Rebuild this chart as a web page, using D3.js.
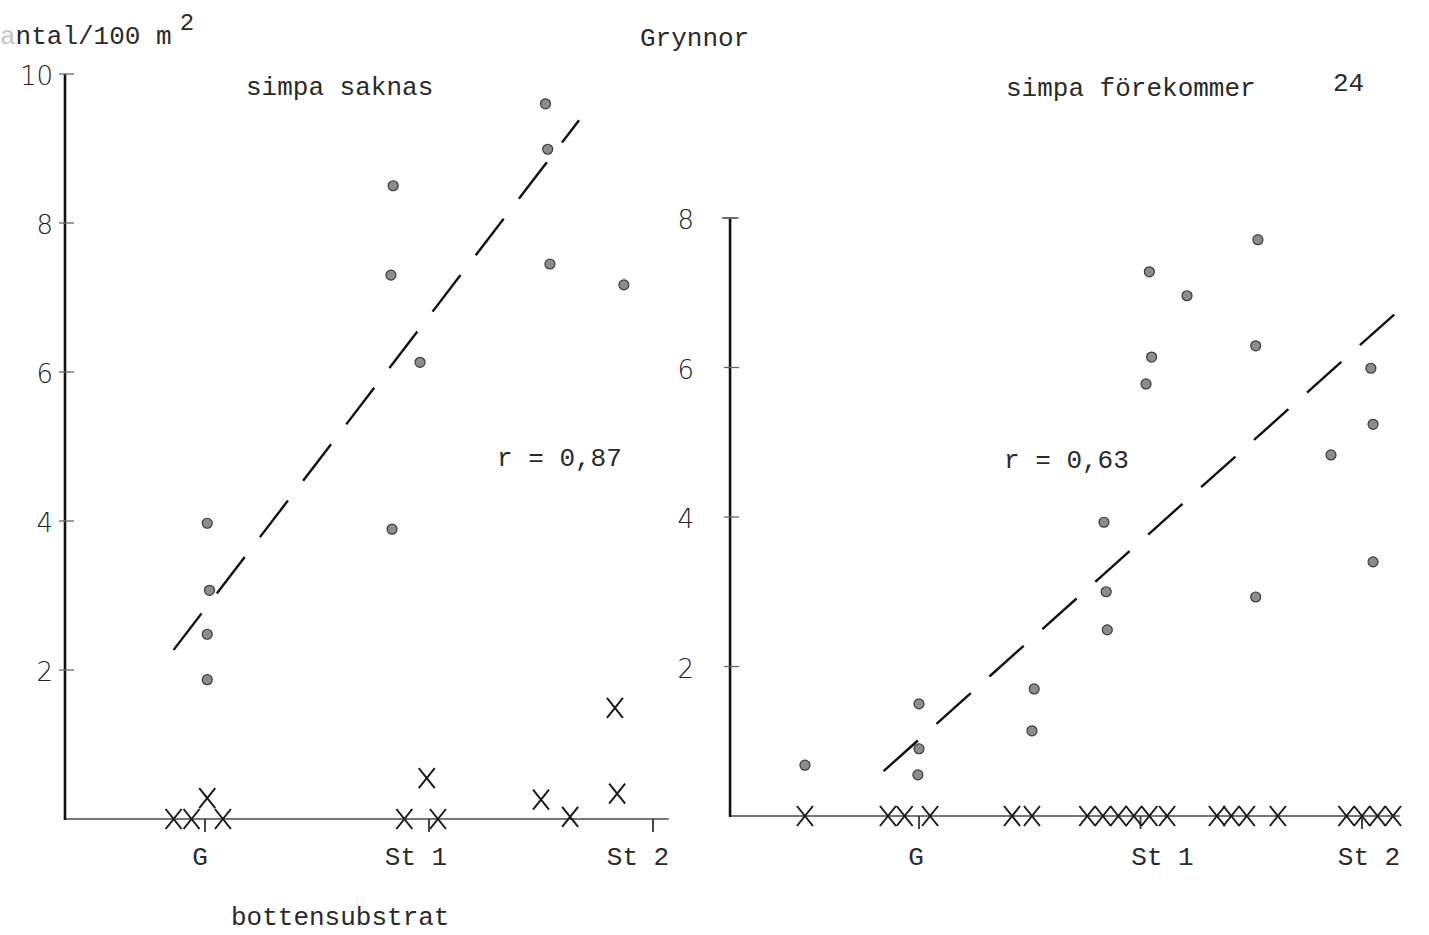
<!DOCTYPE html>
<html>
<head>
<meta charset="utf-8">
<script src="https://cdn.jsdelivr.net/npm/d3@7"></script>
<style>
  body { margin: 0; background: #fff; }
  svg { display: block; }
  .tw { font-family: "Liberation Mono", "DejaVu Sans Mono", monospace; font-size: 26px; fill: #2a2a2a; }
  .tick-label { font-family: "DejaVu Sans", sans-serif; font-weight: 200; font-size: 26px; fill: #222; }
</style>
</head>
<body>
<div id="chart"></div>
<script>
// categories along the bottom (bottensubstrat)
const categories = ["G", "St 1", "St 2"];
const leftTicks = [2, 4, 6, 8, 10];
const rightTicks = [2, 4, 6, 8];

// simpa saknas: dots (x in category units, y = antal/100 m2)
const leftDotPos = [0.01, 0.02, 0.01, 0.01, 0.84, 0.83, 0.96, 0.835, 1.52, 1.53, 1.54, 1.87];
const leftDotVal = [3.97, 3.07, 2.48, 1.87, 8.50, 7.30, 6.13, 3.89, 9.60, 8.99, 7.45, 7.17];
// crosses
const leftCrossPos = [-0.14, -0.06, 0.08, 0.01, 0.89, 1.04, 0.99, 1.50, 1.63, 1.84, 1.83];
const leftCrossVal = [0, 0, 0, 0.28, 0, 0, 0.55, 0.26, 0.03, 0.34, 1.49];
const leftFit = [[-0.14, 2.27], [1.67, 9.38]];
const leftR = "r = 0,87";

// simpa förekommer
const rightDotPos = [-0.515, 0.0, 0.0, -0.005, 0.52, 0.51, 0.835, 0.845, 0.85, 1.04, 1.05, 1.025,
                     1.21, 1.53, 1.52, 1.52, 1.86, 2.04, 2.05, 2.05];
const rightDotVal = [0.68, 1.50, 0.90, 0.55, 1.70, 1.14, 3.93, 3.00, 2.49, 7.28, 6.14, 5.78,
                     6.96, 7.71, 6.29, 2.93, 4.83, 5.99, 5.24, 3.40];
const rightCrossPos = [-0.515, -0.14, -0.065, 0.05, 0.42, 0.51, 0.76, 0.83, 0.90, 0.97, 1.04, 1.12,
                       1.345, 1.41, 1.48, 1.62, 1.93, 2.0, 2.07, 2.14];
const rightCrossVal = rightCrossPos.map(() => 0);
const rightFit = [[-0.16, 0.60], [2.18, 6.80]];
const rightR = "r = 0,63";

const width = 1429, height = 935;

const svg = d3.select("#chart")
  .append("svg")
  .attr("width", width)
  .attr("height", height);

const panels = [
  {
    x: d3.scaleLinear().domain([0, 2]).range([205, 653]),
    y: d3.scaleLinear().domain([0, 10]).range([819, 74]),
    xMin: -0.625, xMax: 2.07, yMax: 10,
    ticks: leftTicks, labelGap: 12, catShift: [-5, -13, -15],
    dotPos: leftDotPos, dotVal: leftDotVal,
    crossPos: leftCrossPos, crossVal: leftCrossVal,
    fit: leftFit, r: leftR, rAt: [497, 466]
  },
  {
    x: d3.scaleLinear().domain([0, 2]).range([919, 1362]),
    y: d3.scaleLinear().domain([0, 8]).range([816, 218]),
    xMin: -0.853, xMax: 2.17, yMax: 8, cap: true,
    ticks: rightTicks, labelGap: 36, catShift: [-3, 22, 7],
    dotPos: rightDotPos, dotVal: rightDotVal,
    crossPos: rightCrossPos, crossVal: rightCrossVal,
    fit: rightFit, r: rightR, rAt: [1004, 468]
  }
];

panels.forEach(p => {
  const g = svg.append("g");
  const x0 = p.x(p.xMin);

  // baseline
  g.append("line")
    .attr("x1", x0).attr("x2", p.x(p.xMax))
    .attr("y1", p.y(0)).attr("y2", p.y(0))
    .attr("stroke", "#777").attr("stroke-width", 2.2);

  // vertical axis
  g.append("line")
    .attr("x1", x0).attr("x2", x0)
    .attr("y1", p.y(0) + 1).attr("y2", p.y(p.yMax))
    .attr("stroke", "#111").attr("stroke-width", 2.6);

  if (p.cap) {
    g.append("line")
      .attr("x1", x0 - 8).attr("x2", x0 + 7)
      .attr("y1", p.y(p.yMax)).attr("y2", p.y(p.yMax))
      .attr("stroke", "#555").attr("stroke-width", 1.5);
  }

  // y ticks
  g.selectAll(".ytick")
    .data(p.ticks)
    .enter()
    .append("line")
    .attr("x1", x0 - 6).attr("x2", x0 + 9)
    .attr("y1", d => p.y(d)).attr("y2", d => p.y(d))
    .attr("stroke", "#666").attr("stroke-width", 1.3);

  g.selectAll(".ylabel")
    .data(p.ticks)
    .enter()
    .append("text")
    .attr("class", "tick-label")
    .attr("x", x0 - p.labelGap)
    .attr("y", d => p.y(d) + 11)
    .attr("text-anchor", "end")
    .text(d => d);

  // x ticks
  g.selectAll(".xtick")
    .data(categories)
    .enter()
    .append("line")
    .attr("x1", (d, i) => p.x(i)).attr("x2", (d, i) => p.x(i))
    .attr("y1", p.y(0)).attr("y2", p.y(0) + 13)
    .attr("stroke", "#333").attr("stroke-width", 1.8);

  g.selectAll(".xlabel")
    .data(categories)
    .enter()
    .append("text")
    .attr("class", "tw")
    .attr("x", (d, i) => p.x(i) + p.catShift[i])
    .attr("y", 865)
    .attr("text-anchor", "middle")
    .text(d => d);

  // regression line
  g.append("line")
    .attr("x1", p.x(p.fit[0][0])).attr("y1", p.y(p.fit[0][1]))
    .attr("x2", p.x(p.fit[1][0])).attr("y2", p.y(p.fit[1][1]))
    .attr("stroke", "#111").attr("stroke-width", 2.4)
    .attr("stroke-dasharray", "46 25");

  // dots
  g.selectAll(".dot")
    .data(p.dotPos.map((v, i) => [v, p.dotVal[i]]))
    .enter()
    .append("circle")
    .attr("cx", d => p.x(d[0]))
    .attr("cy", d => p.y(d[1]))
    .attr("r", 5)
    .attr("fill", "#8c8c8c")
    .attr("stroke", "#3a3a3a")
    .attr("stroke-width", 1.2);

  // crosses
  g.selectAll(".cross")
    .data(p.crossPos.map((v, i) => [v, p.crossVal[i]]))
    .enter()
    .append("path")
    .attr("transform", d => `translate(${p.x(d[0])},${p.y(d[1])})`)
    .attr("d", "M-8,-10L8,10M8,-10L-8,10")
    .attr("fill", "none")
    .attr("stroke", "#1a1a1a")
    .attr("stroke-width", 2);

  g.append("text")
    .attr("class", "tw")
    .attr("x", p.rAt[0]).attr("y", p.rAt[1])
    .text(p.r);
});

// titles and annotations
const title = svg.append("text").attr("class", "tw").attr("x", 0).attr("y", 44);
title.append("tspan").attr("fill", "#c4c4c4").text("a");
title.append("tspan").text("ntal/100 m");
title.append("tspan").attr("dx", 8).attr("dy", -14).attr("font-size", 24).text("2");

svg.append("text").attr("class", "tw").attr("x", 640).attr("y", 46).text("Grynnor");
svg.append("text").attr("class", "tw").attr("x", 246).attr("y", 95).text("simpa saknas");
svg.append("text").attr("class", "tw").attr("x", 1006).attr("y", 96).text("simpa förekommer");
svg.append("text").attr("class", "tw").attr("x", 1333).attr("y", 91).text("24");
svg.append("text").attr("class", "tw").attr("x", 231).attr("y", 925).text("bottensubstrat");
</script>
</body>
</html>
